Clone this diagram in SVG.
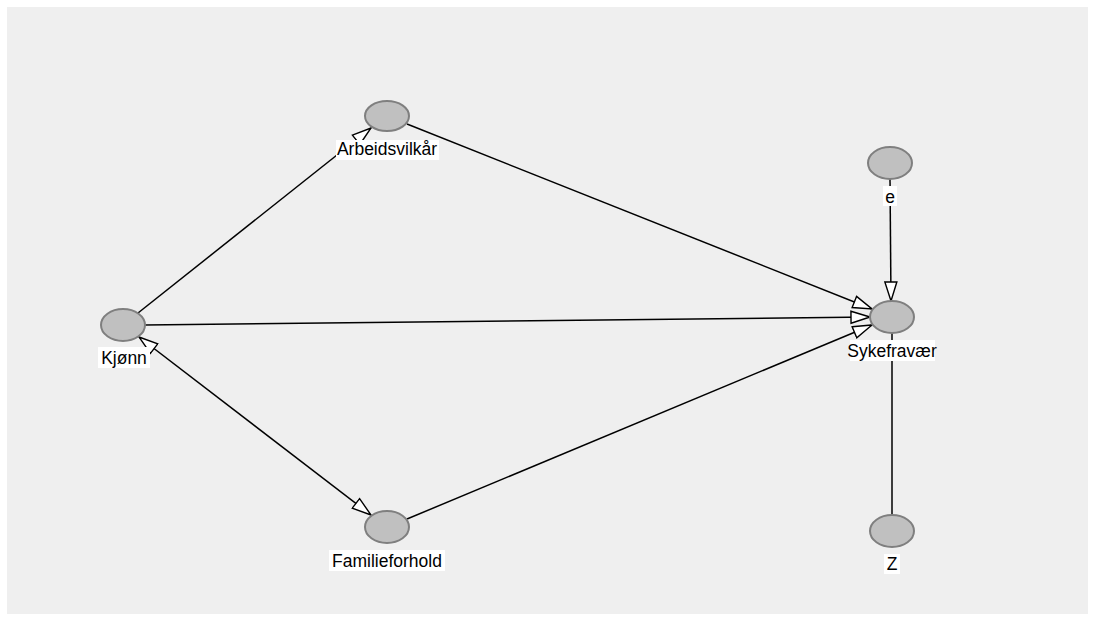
<svg xmlns="http://www.w3.org/2000/svg" width="1095" height="621" viewBox="0 0 1095 621">
<style>
.node ellipse{fill:#c0c0c0;stroke:#7f7f7f;stroke-width:2}
.lbl rect{fill:#ffffff}
.lbl text{font-family:"Liberation Sans",Arial,sans-serif;font-size:17.5px;fill:#000;text-anchor:middle}
.edge{stroke:#000;stroke-width:1.5;fill:none}
</style>
<defs>
<marker id="arr" viewBox="0 0 21 15" refX="20" refY="7.5" markerWidth="21" markerHeight="15" markerUnits="userSpaceOnUse" orient="auto-start-reverse">
<path d="M1,1.5 L20,7.5 L1,13.5 Z" fill="#fff" stroke="#000" stroke-width="1.4"/>
</marker>
</defs>
<rect x="0" y="0" width="1095" height="621" fill="#ffffff"/>
<rect x="7" y="7" width="1081" height="607" fill="#efefef"/>
<g id="connectors">
<line class="edge" x1="138" y1="313" x2="371" y2="128" marker-end="url(#arr)"/>
<line class="edge" x1="407" y1="124" x2="872" y2="309" marker-end="url(#arr)"/>
<line class="edge" x1="145" y1="325" x2="870" y2="317" marker-end="url(#arr)"/>
<line class="edge" x1="407" y1="519" x2="872" y2="325" marker-end="url(#arr)"/>
<line class="edge" x1="139" y1="337" x2="371" y2="515" marker-start="url(#arr)" marker-end="url(#arr)"/>
<line class="edge" x1="890" y1="179" x2="891" y2="301" marker-end="url(#arr)"/>
<line class="edge" x1="892" y1="515" x2="892" y2="333"/>
</g>
<g id="node-arbeidsvilkar" class="node">
<ellipse cx="387" cy="116" rx="22" ry="15"/>
<g class="lbl"><rect x="336" y="140" width="103" height="20"/><text x="387" y="155">Arbeidsvilkår</text></g>
</g>
<g id="node-e" class="node">
<ellipse cx="890" cy="163" rx="22" ry="16"/>
<g class="lbl"><rect x="883" y="186" width="14" height="20"/><text x="890" y="203">e</text></g>
</g>
<g id="node-kjonn" class="node">
<ellipse cx="123" cy="325" rx="22" ry="16"/>
<g class="lbl"><rect x="98" y="347" width="52" height="21"/><text x="124" y="364">Kjønn</text></g>
</g>
<g id="node-sykefravaer" class="node">
<ellipse cx="892" cy="317" rx="22" ry="16"/>
<g class="lbl"><rect x="850" y="340" width="85" height="21"/><text x="892" y="357">Sykefravær</text></g>
</g>
<g id="node-familieforhold" class="node">
<ellipse cx="387" cy="527" rx="22" ry="16"/>
<g class="lbl"><rect x="329" y="550" width="116" height="21"/><text x="387" y="567">Familieforhold</text></g>
</g>
<g id="node-z" class="node">
<ellipse cx="892" cy="531" rx="22" ry="16"/>
<g class="lbl"><rect x="884" y="554" width="16" height="20"/><text x="892" y="570">Z</text></g>
</g>
</svg>
